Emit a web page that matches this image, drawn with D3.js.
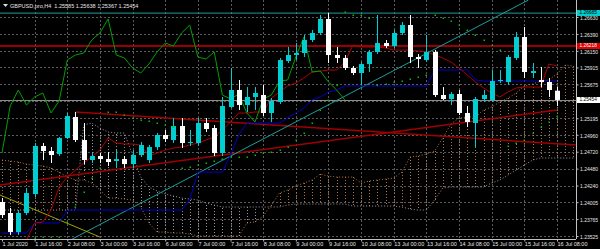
<!DOCTYPE html>
<html>
<head>
<meta charset="utf-8">
<script src="https://cdnjs.cloudflare.com/ajax/libs/d3/7.8.5/d3.min.js"></script>
<style>
	html, body { margin: 0; padding: 0; background: #000; overflow: hidden; }
	svg { display: block; }
	text { font-family: "Liberation Sans", Arial, sans-serif; }
</style>
</head>
<body>
<div id="chart"></div>
<script>
// GBPUSD H4, 1 Jul 2020 00:00 .. 16 Jul 08:00 (bar index 0..68)
const title = "GBPUSD,pro,H4  1.25585 1.25638 1.25367 1.25454";

const open = [1.24007, 1.23851, 1.23581, 1.23851, 1.24120, 1.24801, 1.24730, 1.24687, 1.24914, 1.25212,
	1.24886, 1.24602, 1.24659, 1.24616, 1.24588, 1.24616, 1.24545, 1.24673, 1.24602, 1.24786,
	1.24957, 1.24886, 1.25084, 1.24843, 1.24843, 1.25127, 1.25056, 1.24701, 1.25354, 1.25595,
	1.25382, 1.25496, 1.25524, 1.25269, 1.25425, 1.26006, 1.26091, 1.26119, 1.26304, 1.26403,
	1.26602, 1.26091, 1.26049, 1.25907, 1.25836, 1.25963, 1.26134, 1.26261, 1.26219, 1.26403,
	1.26516, 1.26063, 1.26020, 1.26134, 1.25524, 1.25467, 1.25538, 1.25269, 1.25127, 1.25467,
	1.25453, 1.25722, 1.25708, 1.26049, 1.26346, 1.25836, 1.25737, 1.25708, 1.25585];
const high = [1.24063, 1.23922, 1.23893, 1.24205, 1.24843, 1.24843, 1.24786, 1.24928, 1.25269, 1.25283,
	1.25127, 1.24701, 1.24701, 1.24716, 1.24744, 1.24659, 1.24744, 1.24857, 1.24815, 1.24985,
	1.25028, 1.25198, 1.25198, 1.25028, 1.25198, 1.25198, 1.25098, 1.25496, 1.25907, 1.25737,
	1.25637, 1.25637, 1.25666, 1.25481, 1.26049, 1.26205, 1.26261, 1.26375, 1.26446, 1.26658,
	1.26687, 1.26205, 1.26091, 1.25935, 1.25992, 1.26162, 1.26658, 1.26304, 1.26446, 1.26559,
	1.26658, 1.26105, 1.26375, 1.26162, 1.25637, 1.25566, 1.25595, 1.25368, 1.25496, 1.25595,
	1.25878, 1.25878, 1.26091, 1.26417, 1.26488, 1.25978, 1.25921, 1.25765, 1.25638];
const low = [1.23780, 1.23540, 1.23540, 1.23822, 1.24078, 1.24602, 1.24560, 1.24659, 1.24900, 1.24857,
	1.24545, 1.24560, 1.24560, 1.24517, 1.24489, 1.24489, 1.24489, 1.24645, 1.24560, 1.24744,
	1.24857, 1.24843, 1.24772, 1.24801, 1.24801, 1.24999, 1.24659, 1.24659, 1.25340, 1.25311,
	1.25283, 1.25311, 1.25226, 1.25141, 1.25396, 1.25978, 1.26020, 1.26063, 1.26275, 1.26375,
	1.25978, 1.25978, 1.25878, 1.25807, 1.25666, 1.25850, 1.26105, 1.26190, 1.26190, 1.26375,
	1.25978, 1.25907, 1.25992, 1.25496, 1.25453, 1.25382, 1.25240, 1.25070, 1.24786, 1.25425,
	1.25425, 1.25694, 1.25666, 1.26020, 1.25765, 1.25765, 1.25637, 1.25496, 1.25367];
const close = [1.23822, 1.23581, 1.23851, 1.24134, 1.24801, 1.24730, 1.24673, 1.24914, 1.25226, 1.24886,
	1.24602, 1.24659, 1.24616, 1.24574, 1.24616, 1.24545, 1.24673, 1.24815, 1.24786, 1.24957,
	1.24900, 1.25084, 1.24843, 1.24857, 1.25127, 1.25042, 1.24701, 1.25368, 1.25595, 1.25382,
	1.25496, 1.25552, 1.25269, 1.25439, 1.26020, 1.26091, 1.26119, 1.26304, 1.26403, 1.26602,
	1.26091, 1.26049, 1.25907, 1.25836, 1.25963, 1.26134, 1.26261, 1.26219, 1.26403, 1.26516,
	1.26063, 1.26034, 1.26134, 1.25524, 1.25467, 1.25538, 1.25269, 1.25141, 1.25467, 1.25524,
	1.25722, 1.25737, 1.26063, 1.26346, 1.25850, 1.25864, 1.25708, 1.25595, 1.25454];

// Ichimoku lines
const tenkan = [1.23454, 1.23454, 1.23454, 1.23468, 1.23709, 1.23723, 1.23893, 1.24219, 1.24361, 1.24460,
	1.24560, 1.24645, 1.24744, 1.24914, 1.24843, 1.24829, 1.24829, 1.24815, 1.24659, 1.24701,
	1.24744, 1.24772, 1.24786, 1.24815, 1.24843, 1.24886, 1.24928, 1.25028, 1.25141, 1.25269,
	1.25269, 1.25283, 1.25283, 1.25481, 1.25566, 1.25652, 1.25694, 1.25765, 1.25850, 1.25864,
	1.25878, 1.25878, 1.25992, 1.26233, 1.26205, 1.26205, 1.26205, 1.26190, 1.26162, 1.26162,
	1.26162, 1.26148, 1.26134, 1.26091, 1.26049, 1.25992, 1.25907, 1.25807, 1.25708, 1.25623,
	1.25552, 1.25496, 1.25566, 1.25623, 1.25637, 1.25637, 1.25637, 1.25963, 1.25935];
const kijun = [1.23567, 1.23567, 1.23567, 1.23567, 1.23709, 1.23709, 1.23709, 1.23709, 1.23893, 1.23893,
	1.23893, 1.23893, 1.23893, 1.23893, 1.23893, 1.23893, 1.23893, 1.23893, 1.23893, 1.23893,
	1.23893, 1.23893, 1.23893, 1.24035, 1.24431, 1.24431, 1.24431, 1.24431, 1.24673, 1.24957,
	1.25127, 1.25127, 1.25127, 1.25127, 1.25127, 1.25198, 1.25269, 1.25340, 1.25453, 1.25496,
	1.25566, 1.25595, 1.25652, 1.25652, 1.25652, 1.25652, 1.25652, 1.25652, 1.25652, 1.25652,
	1.25652, 1.25652, 1.25652, 1.25878, 1.25878, 1.25878, 1.25878, 1.25878, 1.25737, 1.25722,
	1.25722, 1.25722, 1.25722, 1.25722, 1.25722, 1.25722, 1.25722, 1.25722, 1.25722];
const senkouA = [1.24602, 1.24588, 1.24574, 1.24545, 1.24531, 1.24517, 1.24489, 1.24431, 1.24361, 1.24319,
	1.24319, 1.24276, 1.24177, 1.24063, 1.24063, 1.24049, 1.24035, 1.23936, 1.23709, 1.23581,
	1.23581, 1.23567, 1.23567, 1.23553, 1.23525, 1.23525, 1.23525, 1.23525, 1.23525, 1.23525,
	1.23709, 1.23723, 1.23808, 1.23964, 1.24134, 1.24177, 1.24234, 1.24276, 1.24319, 1.24404,
	1.24375, 1.24361, 1.24361, 1.24361, 1.24276, 1.24304, 1.24319, 1.24333, 1.24347, 1.24431,
	1.24645, 1.24659, 1.24687, 1.24730, 1.24914, 1.25113, 1.25198, 1.25212, 1.25212, 1.25311,
	1.25354, 1.25425, 1.25481, 1.25552, 1.25652, 1.25680, 1.25722, 1.25737, 1.25822, 1.25949,
	1.25935];
const senkouB = [1.23893, 1.23893, 1.23893, 1.23893, 1.23893, 1.23893, 1.23893, 1.23893, 1.23893, 1.23893,
	1.25098, 1.25127, 1.25056, 1.24999, 1.24985, 1.24985, 1.24673, 1.24361, 1.24219, 1.24163,
	1.24120, 1.24092, 1.24063, 1.24049, 1.24035, 1.23992, 1.23964, 1.23936, 1.23936, 1.23936,
	1.23936, 1.23936, 1.23936, 1.23936, 1.23936, 1.23964, 1.23978, 1.23978, 1.23978, 1.23978,
	1.23978, 1.23978, 1.23978, 1.23950, 1.23950, 1.23950, 1.23950, 1.23950, 1.23950, 1.23936,
	1.23907, 1.23893, 1.23893, 1.24035, 1.24205, 1.24219, 1.24219, 1.24219, 1.24219, 1.24219,
	1.24276, 1.24319, 1.24389, 1.24460, 1.24531, 1.24602, 1.24631, 1.24631, 1.24631, 1.24631,
	1.24631];
const chikouShift = 26;

// parabolic SAR dots (null where not visible)
const sar = [null, null, null, null, 1.23496, 1.23510, 1.23510, 1.23510, 1.23723, 1.23936,
	1.24148, 1.24347, 1.24489, 1.25283, 1.25283, 1.25240, 1.25198, 1.25169, 1.25155, 1.25127,
	1.25098, 1.25070, 1.24489, 1.24503, 1.24531, 1.24560, 1.24588, 1.24616, 1.24645, 1.24645,
	1.24645, 1.24673, 1.24701, 1.24716, 1.24744, 1.24786, 1.24886, 1.24985, 1.25127, 1.25311,
	1.25453, 1.25666, 1.26701, 1.26658, 1.26658, 1.26616, 1.25666, 1.25680, 1.25708, 1.25722,
	1.25751, 1.25779, 1.25807, 1.26658, 1.26616, 1.26573, 1.26516, 1.26446, 1.26375, 1.26304,
	1.26233, 1.26162, 1.24801, 1.24843, 1.24886, 1.24985, 1.25070, 1.25141, 1.25226];

// objects drawn on the chart (bar index, price)
const trendTeal = [[8.6, 1.23482], [64.5, 1.26871]];
const trendYellow = [[-0.25, 1.24106], [12.0, 1.23510]];
const trendRedUp = [[-0.25, 1.24248], [68, 1.25311]];
const trendRedDown = [[9, 1.25283], [70.3, 1.24815]];
const levelCyan = 1.26685;
const levelRed = 1.26218;
const bid = 1.25454;

const priceTicks = [1.26630, 1.26390, 1.26150, 1.25915, 1.25675, 1.25435, 1.25195, 1.24960,
	1.24720, 1.24480, 1.24240, 1.24005, 1.23765, 1.23525];
const hiddenTick = 1.25435; // sits under the bid label
const timeTickIdx = [0, 4, 8, 12, 16, 20, 24, 28, 32, 36, 40, 44, 48, 52, 56, 60, 64, 68];
const timeTickLabels = ["1 Jul 2020", "1 Jul 16:00", "2 Jul 08:00", "3 Jul 00:00", "3 Jul 16:00",
	"6 Jul 08:00", "7 Jul 00:00", "7 Jul 16:00", "8 Jul 08:00", "9 Jul 00:00", "9 Jul 16:00",
	"10 Jul 08:00", "13 Jul 00:00", "13 Jul 16:00", "14 Jul 08:00", "15 Jul 00:00",
	"15 Jul 16:00", "16 Jul 08:00"];

const w = 600;
const h = 249;
const plotRight = 576;
const plotBottom = 239;

const xScale = d3.scaleLinear().domain([0, 68]).range([2, 557]);
const yScale = d3.scaleLinear().domain([1.23525, 1.26630]).range([236, 17]);
const px = (i) => Math.round(xScale(i)) + 0.5;
const fmt = d3.format(".5f");

const svg = d3.select("#chart").append("svg").attr("width", w).attr("height", h);
svg.append("rect").attr("width", w).attr("height", h).attr("fill", "#000");

svg.append("clipPath").attr("id", "plot-clip")
	.append("rect").attr("x", 0).attr("y", 0).attr("width", plotRight).attr("height", plotBottom);
const plot = svg.append("g").attr("clip-path", "url(#plot-clip)");

// grid
plot.selectAll(".hgrid").data(priceTicks).join("line")
	.attr("x1", 0).attr("x2", plotRight)
	.attr("y1", (d) => Math.round(yScale(d)) + 0.5).attr("y2", (d) => Math.round(yScale(d)) + 0.5)
	.attr("stroke", "#5a5a5a").attr("stroke-dasharray", "2,2");
plot.selectAll(".vgrid").data(timeTickIdx.slice(1)).join("line")
	.attr("x1", px).attr("x2", px).attr("y1", 0).attr("y2", plotBottom)
	.attr("stroke", "#5a5a5a").attr("stroke-dasharray", "2,2");

// kumo hatch
const brown = "#b5773f";
const thistle = "#a496a4";
plot.selectAll(".hatch").data(d3.range(senkouA.length)).join("line")
	.attr("x1", px).attr("x2", px)
	.attr("y1", (i) => yScale(senkouA[i])).attr("y2", (i) => yScale(senkouB[i]))
	.attr("stroke", (i) => senkouA[i] >= senkouB[i] ? brown : thistle)
	.attr("stroke-dasharray", "1,2");

const line = d3.line().x((d, i) => xScale(i)).y((d) => yScale(d));
plot.append("path").attr("d", line(senkouA)).attr("fill", "none")
	.attr("stroke", brown).attr("stroke-dasharray", "1,2");
plot.append("path").attr("d", line(senkouB)).attr("fill", "none")
	.attr("stroke", thistle).attr("stroke-dasharray", "1,2");

// horizontal levels
plot.append("line").attr("x1", 0).attr("x2", plotRight)
	.attr("y1", yScale(levelCyan)).attr("y2", yScale(levelCyan))
	.attr("stroke", "#1b9c9c").attr("stroke-width", 1);
plot.append("line").attr("x1", 0).attr("x2", plotRight)
	.attr("y1", yScale(levelRed)).attr("y2", yScale(levelRed))
	.attr("stroke", "#c80000").attr("stroke-width", 1.5);
plot.append("line").attr("x1", 0).attr("x2", plotRight)
	.attr("y1", Math.round(yScale(bid)) + 0.5).attr("y2", Math.round(yScale(bid)) + 0.5)
	.attr("stroke", "#8c8c8c");

// trend lines
const seg = d3.line().x((d) => xScale(d[0])).y((d) => yScale(d[1]));
plot.append("path").attr("d", seg(trendRedUp)).attr("stroke", "#a00000").attr("stroke-width", 1.5).attr("fill", "none");
plot.append("path").attr("d", seg(trendRedDown)).attr("stroke", "#a00000").attr("stroke-width", 1.5).attr("fill", "none");
plot.append("path").attr("d", seg(trendTeal)).attr("stroke", "#1b9c9c").attr("fill", "none");
plot.append("path").attr("d", seg(trendYellow)).attr("stroke", "#a3a300").attr("fill", "none");

// ichimoku lines
plot.append("path").attr("d", line(kijun)).attr("fill", "none").attr("stroke", "#0000c8");
plot.append("path").attr("d", line(tenkan)).attr("fill", "none").attr("stroke", "#b00000");
plot.append("path").attr("d", line(close.slice(chikouShift))).attr("fill", "none").attr("stroke", "#00a000");

// candles
const idx = d3.range(close.length);
const isUp = (i) => close[i] >= open[i];
const bull = "#00ced1";
const bear = "#ffffff";
plot.selectAll(".wick").data(idx).join("line")
	.attr("x1", px).attr("x2", px)
	.attr("y1", (i) => yScale(high[i])).attr("y2", (i) => yScale(low[i]))
	.attr("stroke", (i) => isUp(i) ? bull : bear);
plot.selectAll(".body").data(idx).join("rect")
	.attr("x", (i) => Math.round(xScale(i)) - 2)
	.attr("width", 5)
	.attr("y", (i) => yScale(Math.max(open[i], close[i])))
	.attr("height", (i) => Math.max(1, Math.abs(yScale(open[i]) - yScale(close[i]))))
	.attr("fill", (i) => isUp(i) ? bull : bear);

// SAR dots
plot.selectAll(".sar").data(idx.filter((i) => sar[i] !== null)).join("rect")
	.attr("x", (i) => Math.round(xScale(i)) - 0.5)
	.attr("y", (i) => Math.round(yScale(sar[i])) - 0.5)
	.attr("width", 1.5).attr("height", 1.5)
	.attr("fill", "#00c000");

// axes
const yAxis = d3.axisRight(yScale).tickValues(priceTicks)
	.tickFormat((d) => d === hiddenTick ? "" : fmt(d)).tickSize(2);
const gy = svg.append("g").attr("transform", `translate(${plotRight + 0.5},0)`).call(yAxis);
gy.select(".domain").attr("stroke", "#c0c0c0").attr("d", `M0,0V${plotBottom}`);
gy.selectAll(".tick line").attr("stroke", "#c0c0c0");
gy.selectAll(".tick text").attr("x", 3.5).attr("dy", "0.45em").attr("fill", "#e6e6e6").style("font-size", "5px");

const xAxis = d3.axisBottom(xScale).tickValues(timeTickIdx)
	.tickFormat((d, i) => timeTickLabels[i]).tickSize(2);
const gx = svg.append("g").attr("transform", `translate(0,${plotBottom + 0.5})`).call(xAxis);
gx.select(".domain").attr("stroke", "#c0c0c0").attr("d", `M0,0H${plotRight}`);
gx.selectAll(".tick line").attr("stroke", "#c0c0c0");
gx.selectAll(".tick text").attr("y", 3).attr("dy", "0.71em").attr("text-anchor", "start")
	.attr("fill", "#e6e6e6").style("font-size", "5.5px");

// price labels on the scale
const tags = [
	{ v: levelCyan, bg: "#00cccc", fg: "#000" },
	{ v: levelRed, bg: "#e00000", fg: "#fff" },
	{ v: bid, bg: "#ffffff", fg: "#000" }
];
const tagG = svg.selectAll(".tag").data(tags).join("g")
	.attr("transform", (d) => `translate(${plotRight + 1},${Math.round(yScale(d.v))})`);
tagG.append("rect").attr("x", 0).attr("y", -3).attr("width", 23).attr("height", 6).attr("fill", (d) => d.bg);
tagG.append("text").attr("x", 2.5).attr("dy", "0.3em").attr("fill", (d) => d.fg)
	.style("font-size", "4.8px").text((d) => fmt(d.v));

// title
svg.append("path").attr("d", "M3,4L8,4L5.5,7Z").attr("fill", "#ddd");
svg.append("text").attr("x", 10).attr("y", 7.5).attr("fill", "#e6e6e6")
	.style("font-size", "5.5px").attr("xml:space", "preserve").text(title);
</script>
</body>
</html>
